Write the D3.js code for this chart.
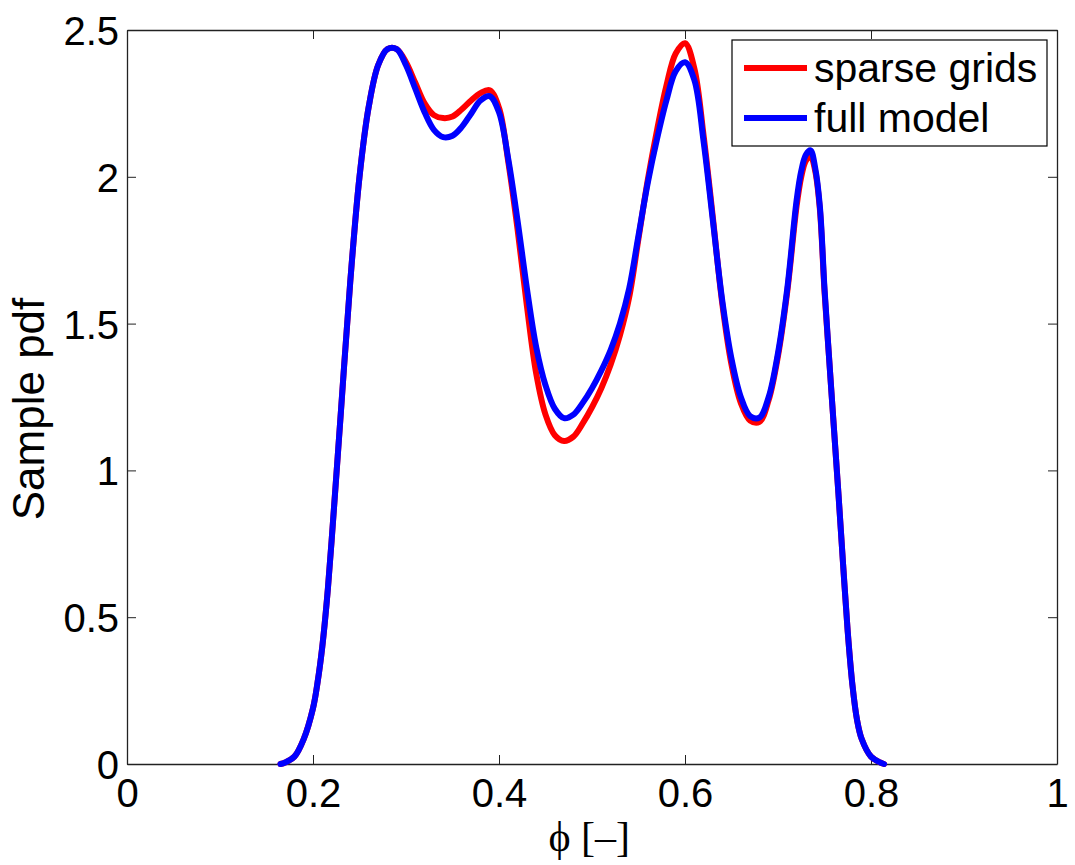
<!DOCTYPE html>
<html>
<head>
<meta charset="utf-8">
<script src="https://cdn.jsdelivr.net/npm/d3@7"></script>
<style>
  body { margin: 0; background: #fff; }
  svg { display: block; }
  .tick text { font-family: "Liberation Sans", Arial, sans-serif; font-size: 40px; fill: #000; }
</style>
</head>
<body>
<div id="chart"></div>
<script>
// phi grid (x values) shared by both curves
const phi = [
  0.165, 0.17, 0.18, 0.19, 0.20, 0.205, 0.21, 0.215, 0.22, 0.23,
  0.24, 0.25, 0.26, 0.27, 0.28, 0.29, 0.30, 0.31, 0.32, 0.33,
  0.34, 0.35, 0.36, 0.37, 0.38, 0.39, 0.40, 0.41, 0.42, 0.43,
  0.44, 0.45, 0.46, 0.47, 0.48, 0.49, 0.50, 0.51, 0.52, 0.53,
  0.54, 0.55, 0.56, 0.57, 0.58, 0.59, 0.60, 0.61, 0.62, 0.63,
  0.64, 0.65, 0.66, 0.67, 0.68, 0.69, 0.70, 0.71, 0.72, 0.725,
  0.73, 0.735, 0.74, 0.745, 0.75, 0.755, 0.76, 0.765, 0.77, 0.775,
  0.78, 0.785, 0.79, 0.80, 0.81, 0.814
];

// sample pdf, sparse grids
const sparseGrids = [
  0, 0.005, 0.025, 0.085, 0.19, 0.28, 0.40, 0.56, 0.76, 1.20,
  1.64, 2.00, 2.24, 2.38, 2.435, 2.435, 2.39, 2.32, 2.25, 2.21,
  2.20, 2.205, 2.23, 2.26, 2.285, 2.295, 2.235, 2.05, 1.82, 1.56,
  1.33, 1.19, 1.12, 1.10, 1.115, 1.16, 1.215, 1.28, 1.36, 1.46,
  1.59, 1.79, 1.99, 2.16, 2.31, 2.42, 2.455, 2.37, 2.14, 1.86,
  1.57, 1.36, 1.23, 1.17, 1.165, 1.24, 1.39, 1.61, 1.90, 2.00,
  2.055, 2.07, 2.02, 1.89, 1.61, 1.38, 1.15, 0.92, 0.68, 0.45,
  0.27, 0.15, 0.085, 0.025, 0.005, 0
];

// sample pdf, full model
const fullModel = [
  0, 0.005, 0.025, 0.085, 0.19, 0.28, 0.40, 0.56, 0.76, 1.20,
  1.64, 2.00, 2.24, 2.38, 2.435, 2.435, 2.38, 2.30, 2.22, 2.16,
  2.135, 2.14, 2.17, 2.215, 2.26, 2.275, 2.22, 2.06, 1.85, 1.62,
  1.42, 1.29, 1.21, 1.178, 1.19, 1.23, 1.28, 1.34, 1.41, 1.50,
  1.62, 1.80, 1.98, 2.13, 2.26, 2.36, 2.39, 2.33, 2.12, 1.85,
  1.58, 1.38, 1.25, 1.185, 1.18, 1.25, 1.40, 1.62, 1.92, 2.02,
  2.075, 2.09, 2.03, 1.90, 1.62, 1.38, 1.15, 0.92, 0.68, 0.45,
  0.27, 0.15, 0.085, 0.025, 0.005, 0
];

const xTicks = [0, 0.2, 0.4, 0.6, 0.8, 1];
const yTicks = [0, 0.5, 1, 1.5, 2, 2.5];
const seriesNames = ["sparse grids", "full model"];
const seriesColors = ["#ff0000", "#0000ff"];

const width = 1075, height = 865;
const margin = { top: 30, right: 18, bottom: 101, left: 127 };
const innerW = width - margin.left - margin.right;
const innerH = height - margin.top - margin.bottom;

const svg = d3.select("#chart").append("svg")
    .attr("width", width)
    .attr("height", height);

const g = svg.append("g")
    .attr("transform", `translate(${margin.left},${margin.top})`);

const x = d3.scaleLinear().domain([0, 1]).range([0, innerW]);
const y = d3.scaleLinear().domain([0, 2.5]).range([innerH, 0]);

const fmt = d => String(d);

// axes (ticks point inward, mirrored on top/right)
const axB = g.append("g").attr("transform", `translate(0,${innerH})`)
    .call(d3.axisBottom(x).tickValues(xTicks).tickFormat(fmt)
        .tickSizeInner(-9).tickSizeOuter(0).tickPadding(15));
const axL = g.append("g")
    .call(d3.axisLeft(y).tickValues(yTicks).tickFormat(fmt)
        .tickSizeInner(-9).tickSizeOuter(0).tickPadding(8));
const axT = g.append("g")
    .call(d3.axisTop(x).tickValues(xTicks).tickFormat("")
        .tickSizeInner(-9).tickSizeOuter(0));
const axR = g.append("g").attr("transform", `translate(${innerW},0)`)
    .call(d3.axisRight(y).tickValues(yTicks).tickFormat("")
        .tickSizeInner(-9).tickSizeOuter(0));

[axB, axL, axT, axR].forEach(a => {
    a.select(".domain").attr("stroke", "#222").attr("stroke-width", 1.3);
    a.selectAll(".tick line").attr("stroke", "#222").attr("stroke-width", 1);
});
axL.selectAll(".tick text").attr("dy", "0.36em");

// curves
const line = d3.line()
    .x((d, i) => x(phi[i]))
    .y(d => y(d))
    .curve(d3.curveCatmullRom.alpha(0.5));

[sparseGrids, fullModel].forEach((s, k) => {
    g.append("path")
        .datum(s)
        .attr("fill", "none")
        .attr("stroke", seriesColors[k])
        .attr("stroke-width", 6)
        .attr("stroke-linejoin", "round")
        .attr("stroke-linecap", "round")
        .attr("d", line);
});

// axis titles
svg.append("text")
    .attr("x", margin.left + innerW * 0.497)
    .attr("y", 851)
    .attr("text-anchor", "middle")
    .style("font-family", "'Liberation Serif', 'DejaVu Serif', 'Times New Roman', serif")
    .style("font-size", "42px")
    .text("\u03d5 [\u2013]");

svg.append("text")
    .attr("transform", "translate(44,409) rotate(-90)")
    .attr("text-anchor", "middle")
    .style("font-family", "'Liberation Sans', Arial, sans-serif")
    .style("font-size", "44px")
    .text("Sample pdf");

// legend
const lg = svg.append("g").attr("transform", "translate(732,40)");
lg.append("rect")
    .attr("width", 315).attr("height", 106)
    .attr("fill", "#fff").attr("stroke", "#000").attr("stroke-width", 1.2);
seriesNames.forEach((name, i) => {
    const cy = 28 + i * 50;
    lg.append("line")
        .attr("x1", 12).attr("x2", 75)
        .attr("y1", cy).attr("y2", cy)
        .attr("stroke", seriesColors[i]).attr("stroke-width", 6);
    lg.append("text")
        .attr("x", 82).attr("y", cy + 14)
        .style("font-family", "'Liberation Sans', Arial, sans-serif")
        .style("font-size", "41px")
        .text(name);
});
</script>
</body>
</html>
